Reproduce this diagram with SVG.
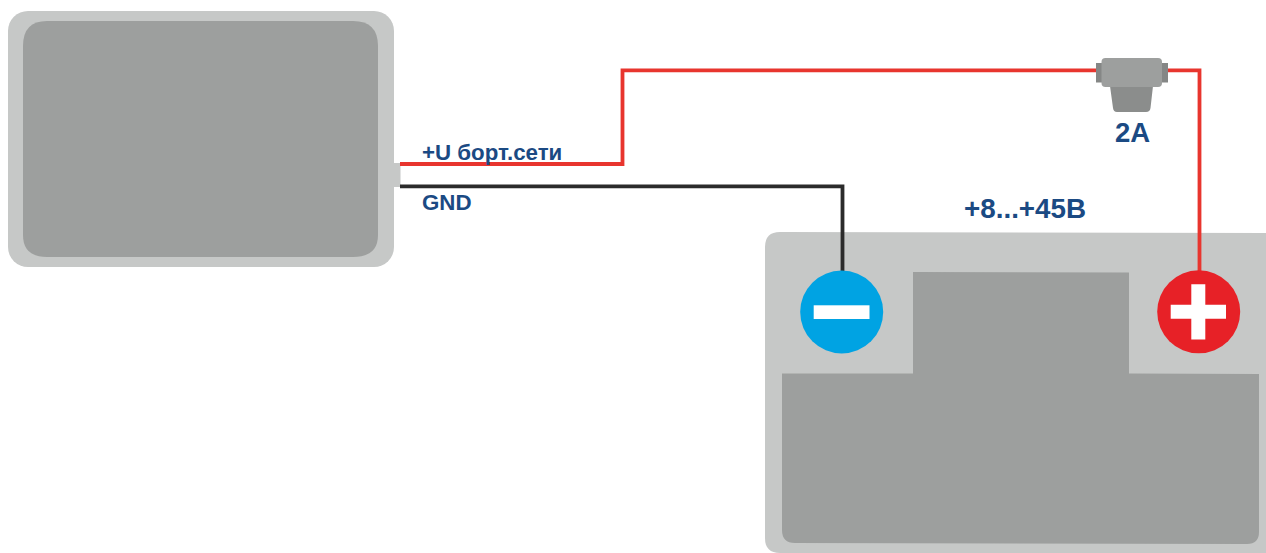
<svg xmlns="http://www.w3.org/2000/svg" width="1266" height="553" viewBox="0 0 1266 553">
<style>
.light{fill:#c6c8c7}
.dark{fill:#9d9f9e}
.wire{fill:none;stroke-width:3.800;stroke-linejoin:miter}
.red{stroke:#e8352e}
.black{stroke:#2b2b2b}
.lbl{font-family:"Liberation Sans",Arial,sans-serif;font-weight:700;fill:#1b4a83}
.sym{fill:#fff}
</style>
<rect width="1266" height="553" fill="#fff"/>
<g id="device">
<rect class="light" x="8" y="11" width="386" height="256" rx="20"/>
<path class="dark" d="M47 21H353Q378 21 378 46V235Q378 257 353 257H47Q23 257 23 235V46Q23 21 47 21Z"/>
<rect class="light" x="394" y="163" width="6.500" height="24"/>
</g>
<g id="battery">
<path class="light" d="M780 232L1280 233L1280 553L780 553Q765 553 765 538L765 247Q765 232 780 232Z"/>
<path class="dark" d="M913 272L1129 272.500L1129 373.500L1259 374L1259 532Q1259 544 1247 544L795 543Q782 543 782 530L782 373.500L913 373.500Z"/>
</g>
<g id="connectors">
<path class="wire red" d="M400 164H622.500V70.300H1097"/>
<path class="wire red" d="M1167 70.300H1199.500V275"/>
<path class="wire black" d="M400 186.300H842.500V275"/>
</g>
<g id="fuse">
<rect x="1096" y="63" width="8" height="19.500" fill="#858786"/>
<rect x="1160" y="63" width="8" height="19.500" fill="#858786"/>
<path d="M1110 86L1153 86L1150.500 108Q1150 112 1146 112L1117 112Q1113.500 112 1113 108Z" fill="#8b8d8c"/>
<rect x="1101.500" y="58" width="60.500" height="29" rx="4" fill="#9d9f9e"/>
</g>
<g id="minus-terminal">
<circle cx="841.700" cy="312" r="41.500" fill="#00a3e3"/>
<rect class="sym" x="813.700" y="305.300" width="55.800" height="13.700"/>
</g>
<g id="plus-terminal">
<circle cx="1198.700" cy="311.800" r="41.500" fill="#e72127"/>
<path class="sym" d="M1191.300 284.300H1205.300V304.700H1226V318.700H1205.300V339.500H1191.300V318.700H1170.700V304.700H1191.300Z"/>
</g>
<g id="labels">
<text class="lbl" x="422" y="159.500" font-size="22.300">+U борт.сети</text>
<text class="lbl" x="422" y="210" font-size="22.300">GND</text>
<text class="lbl" x="964" y="218" font-size="27.800">+8...+45В</text>
<text class="lbl" x="1115" y="142" font-size="27.500">2A</text>
</g>
</svg>
